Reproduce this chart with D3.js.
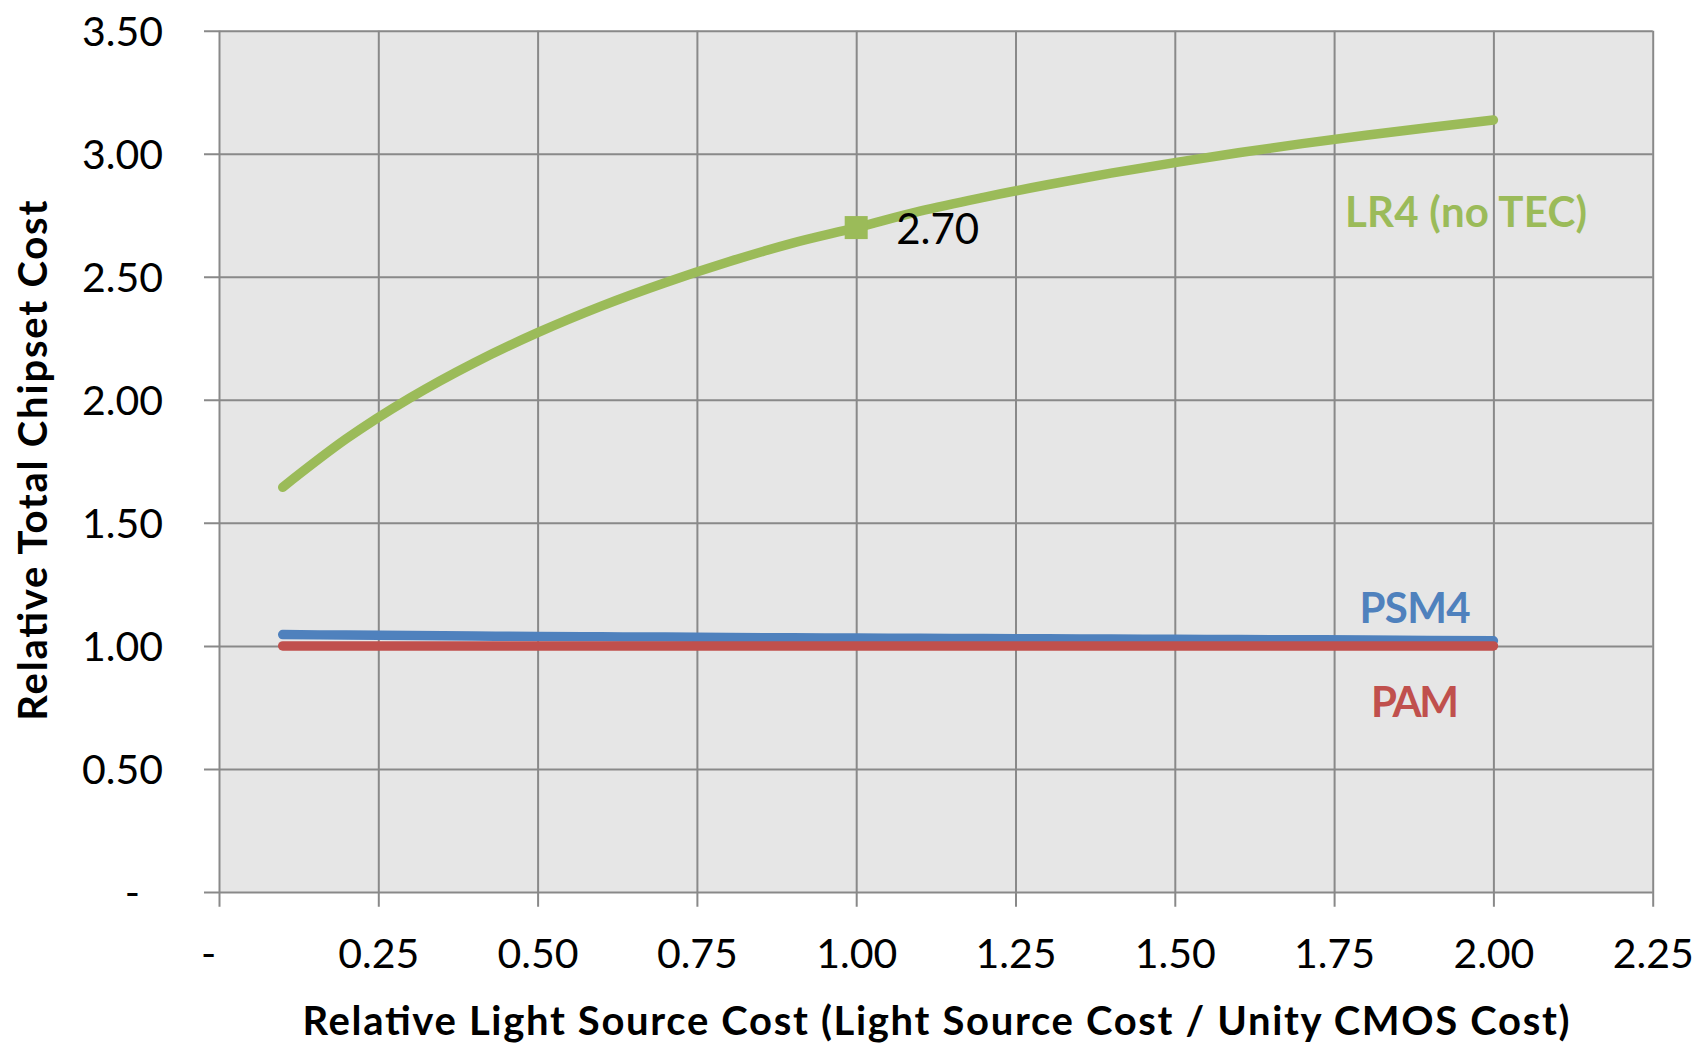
<!DOCTYPE html>
<html><head><meta charset="utf-8">
<script src="https://cdn.jsdelivr.net/npm/d3@7"></script>
<style>
html,body{margin:0;padding:0;background:#fff;}
svg{display:block;font-family:Lato,"Open Sans",sans-serif;}
</style></head>
<body>
<svg id="c" width="1698" height="1043"></svg>
<script>
// ---- data ----
const xValues = [0.1,0.2,0.3,0.4,0.5,0.6,0.7,0.8,0.9,1.0,1.1,1.2,1.3,1.4,1.5,1.6,1.7,1.8,1.9,2.0];
const lr4 = [1.645,1.842,2.008,2.150,2.273,2.381,2.476,2.561,2.637,2.700,2.767,2.823,2.874,2.921,2.964,3.004,3.041,3.075,3.107,3.137];
const psm4 = [1.046,1.044,1.042,1.040,1.038,1.037,1.036,1.034,1.033,1.032,1.031,1.030,1.029,1.028,1.027,1.026,1.025,1.024,1.022,1.021];
const pam = [1,1,1,1,1,1,1,1,1,1,1,1,1,1,1,1,1,1,1,1];
const xTicks = [0,0.25,0.5,0.75,1.0,1.25,1.5,1.75,2.0,2.25];
const xTickLabels = ["-","0.25","0.50","0.75","1.00","1.25","1.50","1.75","2.00","2.25"];
const yTicks = [0,0.5,1.0,1.5,2.0,2.5,3.0,3.5];
const yTickLabels = ["-","0.50","1.00","1.50","2.00","2.50","3.00","3.50"];
const seriesNames = ["LR4 (no TEC)","PSM4","PAM"];
const seriesColors = ["#9BBB59","#4F81BD","#C0504D"];
const annotX = 1.0, annotY = 2.70, annotText = "2.70";
const xTitle = "Relative Light Source Cost (Light Source Cost / Unity CMOS Cost)";
const yTitle = "Relative Total Chipset Cost";

// ---- layout ----
const L = 219, R = 1652.7, T = 30.7, B = 892;
const svg = d3.select("#c");
const x = d3.scaleLinear().domain([0,2.25]).range([L,R]);
const y = d3.scaleLinear().domain([0,3.5]).range([B,T]);
const gridColor = "#898989";

svg.append("rect").attr("x",L).attr("y",T).attr("width",R-L).attr("height",B-T).attr("fill","#e6e6e6");

// y axis + horizontal grid
const gy = svg.append("g").attr("transform",`translate(${R},0)`)
  .call(d3.axisLeft(y).tickValues(yTicks).tickSize(R-204).tickPadding(41)
        .tickFormat((d,i)=>yTickLabels[i]));
gy.select(".domain").remove();
gy.selectAll("line").attr("stroke",gridColor).attr("stroke-width",2);
gy.selectAll("text").attr("font-size",41).attr("fill","#000").attr("font-family","Lato")
  .attr("dy","0.36em")
  .attr("dx",(d,i)=> yTicks[i]===0 ? -23 : 0);

// x axis + vertical grid
const gx = svg.append("g").attr("transform",`translate(0,${T})`)
  .call(d3.axisBottom(x).tickValues(xTicks).tickSize(906.7-T).tickPadding(0)
        .tickFormat((d,i)=>xTickLabels[i]));
gx.select(".domain").remove();
gx.selectAll("line").attr("stroke",gridColor).attr("stroke-width",2);
gx.selectAll("text").attr("font-size",41).attr("fill","#000").attr("font-family","Lato")
  .attr("y",968-T).attr("dy",0)
  .attr("dx",(d,i)=> xTicks[i]===0 ? -11 : 0);

// lines
const line = d3.line().x(d=>x(d[0])).y(d=>y(d[1])).curve(d3.curveMonotoneX);
const allSeries = [lr4, psm4, pam];
allSeries.forEach((s,k)=>{
  svg.append("path").datum(xValues.map((xv,i)=>[xv,s[i]]))
    .attr("d",line).attr("fill","none").attr("stroke",seriesColors[k])
    .attr("stroke-width",9.5).attr("stroke-linecap","round").attr("stroke-linejoin","round");
});

// marker + annotation
svg.append("rect").attr("x",x(annotX)-11.5).attr("y",y(annotY)-11.5).attr("width",23).attr("height",23)
  .attr("fill",seriesColors[0]);
svg.append("text").attr("x",x(annotX)+40).attr("y",y(annotY)+16).attr("font-size",42)
  .attr("font-family","Lato").text(annotText);

// series labels
const labelPos = [
  {x:1466, y:226.7, w:242},
  {x:1415, y:622.7, w:111},
  {x:1415, y:717, w:88}
];
seriesNames.forEach((n,k)=>{
  svg.append("text").attr("x",labelPos[k].x).attr("y",labelPos[k].y).attr("text-anchor","middle")
    .attr("font-size",42).attr("font-weight","bold").attr("font-family","Lato")
    .attr("textLength",labelPos[k].w).attr("lengthAdjust","spacing")
    .attr("fill",seriesColors[k]).text(n);
});

// axis titles
svg.append("text").attr("x",936).attr("y",1035).attr("text-anchor","middle")
  .attr("font-size",40).attr("font-weight","bold").attr("font-family","Lato")
  .attr("textLength",1267).attr("lengthAdjust","spacing").text(xTitle);
svg.append("text").attr("transform",`translate(47,460.7) rotate(-90)`).attr("text-anchor","middle")
  .attr("font-size",40).attr("font-weight","bold").attr("font-family","Lato")
  .attr("textLength",520).attr("lengthAdjust","spacing").text(yTitle);
</script>
</body></html>
